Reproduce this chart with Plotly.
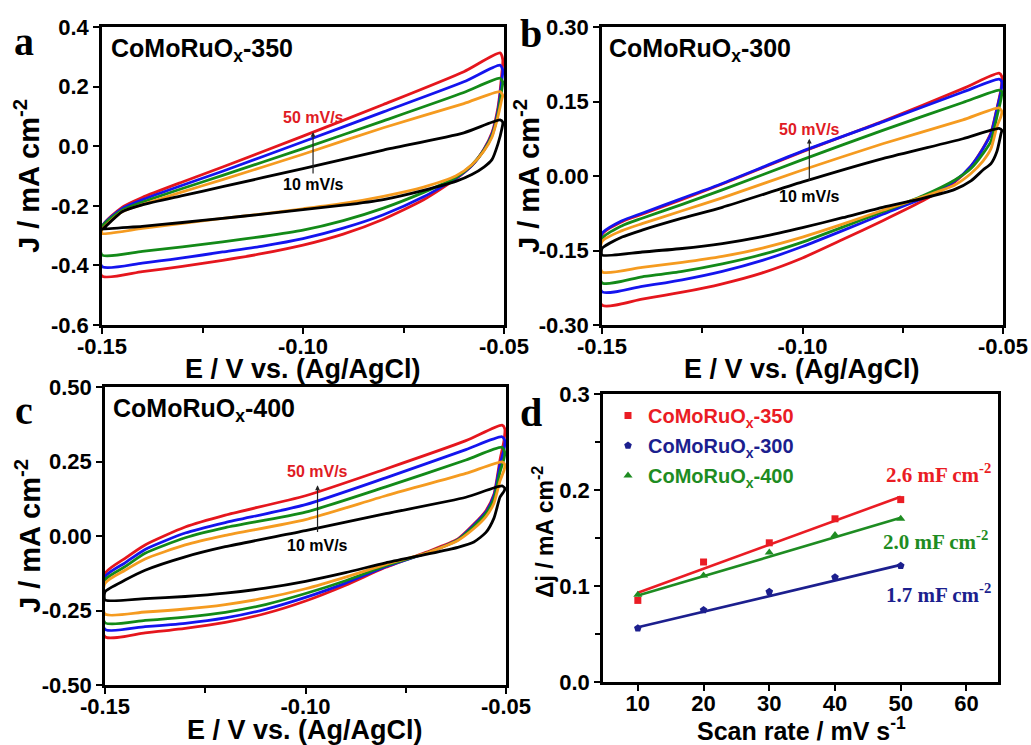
import plotly.graph_objects as go

# ---------------- data ----------------
E_up = [-0.15, -0.145, -0.14, -0.13, -0.12, -0.10, -0.08, -0.06, -0.051]
E_dn = [-0.0503, -0.0505, -0.0515, -0.053, -0.055, -0.058, -0.062, -0.07, -0.08, -0.09,
        -0.10, -0.11, -0.12, -0.13, -0.14, -0.15]

# panel a: CoMoRuOx-350
a50_up = [-0.27, -0.205, -0.172, -0.12, -0.07, 0.034, 0.14, 0.25, 0.313]
a40_up = [-0.27, -0.21, -0.18, -0.131, -0.084, 0.015, 0.115, 0.216, 0.272]
a30_up = [-0.27, -0.215, -0.188, -0.142, -0.098, -0.008, 0.085, 0.18, 0.228]
a20_up = [-0.28, -0.22, -0.196, -0.153, -0.112, -0.027, 0.062, 0.143, 0.183]
a10_up = [-0.28, -0.22, -0.197, -0.166, -0.136, -0.075, -0.013, 0.045, 0.088]
a50_dn = [0.29, 0.25, 0.13, 0.045, -0.01, -0.065, -0.11, -0.18, -0.245, -0.295, -0.332, -0.36, -0.383, -0.403, -0.421, -0.436]
a40_dn = [0.255, 0.225, 0.12, 0.04, -0.012, -0.065, -0.108, -0.17, -0.23, -0.275, -0.31, -0.335, -0.355, -0.375, -0.392, -0.404]
a30_dn = [0.215, 0.195, 0.11, 0.035, -0.014, -0.063, -0.105, -0.155, -0.208, -0.25, -0.282, -0.303, -0.321, -0.338, -0.353, -0.365]
a20_dn = [0.17, 0.16, 0.10, 0.03, -0.016, -0.062, -0.10, -0.137, -0.168, -0.192, -0.21, -0.227, -0.242, -0.259, -0.276, -0.293]
a10_dn = [0.08, 0.06, 0.008, -0.045, -0.07, -0.095, -0.118, -0.148, -0.179, -0.198, -0.213, -0.228, -0.242, -0.256, -0.269, -0.279]

# panel b: CoMoRuOx-300
b50_up = [-0.118, -0.092, -0.077, -0.047, -0.016, 0.049, 0.110, 0.176, 0.207]
b40_up = [-0.116, -0.090, -0.075, -0.045, -0.015, 0.050, 0.109, 0.169, 0.195]
b30_up = [-0.126, -0.100, -0.085, -0.057, -0.028, 0.033, 0.092, 0.148, 0.173]
b20_up = [-0.132, -0.110, -0.096, -0.070, -0.044, 0.012, 0.065, 0.113, 0.137]
b10_up = [-0.146, -0.123, -0.109, -0.085, -0.063, -0.012, 0.035, 0.075, 0.096]
b50_dn = [0.20, 0.175, 0.137, 0.087, 0.056, 0.02, -0.012, -0.05, -0.09, -0.128, -0.165, -0.195, -0.217, -0.234, -0.248, -0.26]
b40_dn = [0.19, 0.17, 0.135, 0.085, 0.055, 0.02, -0.01, -0.045, -0.077, -0.11, -0.142, -0.17, -0.192, -0.209, -0.222, -0.233]
b30_dn = [0.17, 0.155, 0.12, 0.07, 0.045, 0.015, -0.008, -0.04, -0.072, -0.103, -0.133, -0.158, -0.177, -0.192, -0.203, -0.215]
b20_dn = [0.13, 0.12, 0.10, 0.055, 0.03, 0.005, -0.018, -0.042, -0.069, -0.097, -0.123, -0.145, -0.162, -0.174, -0.184, -0.193]
b10_dn = [0.092, 0.085, 0.05, 0.025, 0.012, -0.01, -0.027, -0.045, -0.063, -0.084, -0.104, -0.122, -0.136, -0.146, -0.153, -0.159]

# panel c: CoMoRuOx-400
c50_up = [-0.126, -0.075, -0.03, 0.03, 0.07, 0.135, 0.225, 0.32, 0.372]
c40_up = [-0.137, -0.09, -0.045, 0.01, 0.045, 0.105, 0.195, 0.29, 0.333]
c30_up = [-0.148, -0.103, -0.058, -0.006, 0.028, 0.08, 0.165, 0.255, 0.298]
c20_up = [-0.159, -0.115, -0.077, -0.03, 0.002, 0.055, 0.135, 0.21, 0.249]
c10_up = [-0.187, -0.148, -0.115, -0.07, -0.036, 0.018, 0.075, 0.13, 0.168]
c50_dn = [0.36, 0.32, 0.255, 0.14, 0.085, 0.04, -0.01, -0.055, -0.105, -0.165, -0.218, -0.26, -0.29, -0.31, -0.325, -0.338]
c40_dn = [0.32, 0.29, 0.24, 0.135, 0.08, 0.037, -0.012, -0.058, -0.103, -0.158, -0.206, -0.246, -0.275, -0.293, -0.304, -0.313]
c30_dn = [0.28, 0.26, 0.215, 0.125, 0.075, 0.033, -0.013, -0.058, -0.1, -0.15, -0.193, -0.23, -0.256, -0.272, -0.283, -0.291]
c20_dn = [0.24, 0.22, 0.185, 0.11, 0.065, 0.025, -0.015, -0.058, -0.095, -0.138, -0.177, -0.208, -0.23, -0.245, -0.255, -0.262]
c10_dn = [0.16, 0.15, 0.13, 0.06, 0.012, -0.02, -0.038, -0.062, -0.09, -0.123, -0.152, -0.175, -0.192, -0.203, -0.21, -0.215]

# panel d: capacitive current vs scan rate
scan_rate = [10, 20, 30, 40, 50]
dj_350 = [0.085, 0.125, 0.145, 0.170, 0.190]
dj_300 = [0.056, 0.075, 0.094, 0.109, 0.121]
dj_400 = [0.091, 0.111, 0.135, 0.153, 0.170]
fit_rate = [10, 50]
fit_350 = [0.093, 0.193]
fit_300 = [0.057, 0.122]
fit_400 = [0.090, 0.171]

# tick labels
cv_x_vals = [-0.15, -0.10, -0.05]
cv_x_text = ['-0.15', '-0.10', '-0.05']
cv_x_minor = [-0.125, -0.075]
a_y_vals = [-0.6, -0.4, -0.2, 0.0, 0.2, 0.4]
a_y_text = ['-0.6', '-0.4', '-0.2', '0.0', '0.2', '0.4']
b_y_vals = [-0.30, -0.15, 0.0, 0.15, 0.30]
b_y_text = ['-0.30', '-0.15', '0.00', '0.15', '0.30']
c_y_vals = [-0.50, -0.25, 0.0, 0.25, 0.50]
c_y_text = ['-0.50', '-0.25', '0.00', '0.25', '0.50']
d_x_vals = [10, 20, 30, 40, 50, 60]
d_x_text = ['10', '20', '30', '40', '50', '60']
d_y_vals = [0.0, 0.1, 0.2, 0.3]
d_y_text = ['0.0', '0.1', '0.2', '0.3']
d_y_minor = [0.05, 0.15, 0.25]

# ---------------- style ----------------
W, H = 1031, 745
SANS = 'Arial, "Liberation Sans", sans-serif'
SERIF = '"Times New Roman", "Liberation Serif", serif'
CV_COLORS = ['#e5161d', '#1414ee', '#138a18', '#f59b20', '#000000']
D_RED, D_BLUE, D_GREEN = '#ea1c24', '#1c1f8e', '#1e8c22'


def px(x):
    return x / W


def py(y):
    return 1 - y / H


fig = go.Figure()

panels = [
    ('x', 'y', [(a50_up, a50_dn), (a40_up, a40_dn), (a30_up, a30_dn), (a20_up, a20_dn), (a10_up, a10_dn)]),
    ('x2', 'y2', [(b50_up, b50_dn), (b40_up, b40_dn), (b30_up, b30_dn), (b20_up, b20_dn), (b10_up, b10_dn)]),
    ('x3', 'y3', [(c50_up, c50_dn), (c40_up, c40_dn), (c30_up, c30_dn), (c20_up, c20_dn), (c10_up, c10_dn)]),
]
for xa, ya, curves in panels:
    for (up, dn), col in zip(curves, CV_COLORS):
        fig.add_trace(go.Scatter(
            x=E_up + E_dn + [E_up[0]], y=up + dn + [up[0]],
            mode='lines', xaxis=xa, yaxis=ya, showlegend=False,
            line=dict(color=col, width=2.8, shape='spline', smoothing=0.6)))

# panel d fits and points
for fy, col in [(fit_350, D_RED), (fit_300, D_BLUE), (fit_400, D_GREEN)]:
    fig.add_trace(go.Scatter(x=fit_rate, y=fy, mode='lines', xaxis='x4', yaxis='y4',
                             showlegend=False, line=dict(color=col, width=2.6)))
leg_names = [
    '<span style="color:%s">CoMoRuO<sub>x</sub>-350</span>' % D_RED,
    '<span style="color:%s">CoMoRuO<sub>x</sub>-300</span>' % D_BLUE,
    '<span style="color:%s">CoMoRuO<sub>x</sub>-400</span>' % D_GREEN,
]
for dy, col, sym, nm, sz in [(dj_350, D_RED, 'square', leg_names[0], 7),
                             (dj_300, D_BLUE, 'pentagon', leg_names[1], 8),
                             (dj_400, D_GREEN, 'triangle-up', leg_names[2], 8)]:
    fig.add_trace(go.Scatter(x=scan_rate, y=dy, mode='markers', xaxis='x4', yaxis='y4',
                             name=nm, legendgroup=nm,
                             marker=dict(color=col, symbol=sym, size=sz)))

tickfont = dict(family=SANS, size=22, color='black', weight='bold')


def axis(domain, rng, vals, text, anchor, minor_vals=None, standoff=0):
    d = dict(domain=domain, range=rng, tickmode='array', tickvals=vals, ticktext=text,
             ticks='outside', ticklen=6, tickwidth=2, tickcolor='black',
             showline=True, linewidth=2.5, linecolor='black', mirror=True,
             showgrid=False, zeroline=False, tickfont=tickfont, anchor=anchor,
             automargin=False, fixedrange=True, ticklabelstandoff=standoff)
    if minor_vals:
        d['minor'] = dict(tickmode='array', tickvals=minor_vals, ticks='outside',
                          ticklen=5, tickwidth=2, tickcolor='black', showgrid=False)
    return d


dom_a_x, dom_a_y = [px(102), px(504)], [py(325), py(27)]
dom_b_x, dom_b_y = [px(602), px(1003)], [py(325), py(27)]
dom_c_x, dom_c_y = [px(105), px(506)], [py(685), py(387)]
dom_d_x, dom_d_y = [px(603), px(998)], [py(682), py(394)]

fig.update_layout(
    template='none',
    width=W, height=H, margin=dict(l=0, r=0, t=0, b=0, autoexpand=False),
    paper_bgcolor='white', plot_bgcolor='white',
    xaxis=axis(dom_a_x, [-0.15, -0.05], cv_x_vals, cv_x_text, 'y', cv_x_minor, -6),
    yaxis=axis(dom_a_y, [-0.6, 0.4], a_y_vals, a_y_text, 'x'),
    xaxis2=axis(dom_b_x, [-0.15, -0.05], cv_x_vals, cv_x_text, 'y2', cv_x_minor, -6),
    yaxis2=axis(dom_b_y, [-0.30, 0.30], b_y_vals, b_y_text, 'x2'),
    xaxis3=axis(dom_c_x, [-0.15, -0.05], cv_x_vals, cv_x_text, 'y3', cv_x_minor, -6),
    yaxis3=axis(dom_c_y, [-0.5, 0.5], c_y_vals, c_y_text, 'x3'),
    xaxis4=axis(dom_d_x, [4.7, 64.8], d_x_vals, d_x_text, 'y4', None, -6),
    yaxis4=axis(dom_d_y, [0.0, 0.3], d_y_vals, d_y_text, 'x4', d_y_minor),
    showlegend=True,
    legend=dict(x=px(608), y=py(396), xanchor='left', yanchor='top',
                bgcolor='rgba(0,0,0,0)', borderwidth=0, tracegroupgap=1,
                font=dict(family=SANS, size=20, weight='bold')),
)

ann = []


def text(x, y, s, size, color='black', family=SANS, xanchor='center', yanchor='middle', angle=0):
    ann.append(dict(x=px(x), y=py(y), xref='paper', yref='paper', text=s, showarrow=False,
                    xanchor=xanchor, yanchor=yanchor, textangle=angle,
                    font=dict(family=family, size=size, color=color, weight='bold')))


# panel letters
text(24, 42, 'a', 40, family=SERIF)
text(531, 34, 'b', 40, family=SERIF)
text(24, 410, 'c', 40, family=SERIF)
text(531, 412, 'd', 40, family=SERIF)

# sample titles
text(109, 50, 'CoMoRuO<sub>x</sub>-350', 25, xanchor='left')
text(607, 50, 'CoMoRuO<sub>x</sub>-300', 25, xanchor='left')
text(111, 410, 'CoMoRuO<sub>x</sub>-400', 25, xanchor='left')

# axis titles
xt = 'E / V vs. (Ag/AgCl)'
text(303, 369, xt, 27)
text(802, 369, xt, 27)
text(305, 730, xt, 27)
text(801, 729, 'Scan rate / mV s<sup>-1</sup>', 25)
yt = 'J / mA cm<sup>-2</sup>'
text(27, 176, yt, 29, angle=-90)
text(527, 176, yt, 29, angle=-90)
text(28, 536, yt, 29, angle=-90)
text(543, 532, 'Δj / mA cm<sup>-2</sup>', 23, angle=-90)

# capacitance labels
text(993, 473, '2.6 mF cm<sup>-2</sup>', 21, D_RED, SERIF, xanchor='right')
text(990, 540, '2.0 mF cm<sup>-2</sup>', 21, D_GREEN, SERIF, xanchor='right')
text(993, 593, '1.7 mF cm<sup>-2</sup>', 21, D_BLUE, SERIF, xanchor='right')

# scan-rate arrows and labels (data coordinates)
arrows = [
    ('x', 'y', -0.0975, -0.097, 0.048, 0.098, -0.128),
    ('x2', 'y2', -0.0983, -0.012, 0.075, 0.094, -0.041),
    ('x3', 'y3', -0.097, 0.008, 0.17, 0.215, -0.031),
]
for xr, yr, ex, j0, j1, jt, jb in arrows:
    ann.append(dict(x=ex, y=j1, ax=ex, ay=j0, xref=xr, yref=yr, axref=xr, ayref=yr,
                    text='', showarrow=True, arrowhead=2, arrowsize=0.8, arrowwidth=1.2,
                    arrowcolor='#222222'))
    ann.append(dict(x=ex, y=jt, xref=xr, yref=yr, text='50 mV/s', showarrow=False,
                    font=dict(family=SANS, size=16, color='#e01b24', weight='bold')))
    ann.append(dict(x=ex, y=jb, xref=xr, yref=yr, text='10 mV/s', showarrow=False,
                    font=dict(family=SANS, size=16, color='black', weight='bold')))

fig.update_layout(annotations=ann)
fig.write_html('out.html')
